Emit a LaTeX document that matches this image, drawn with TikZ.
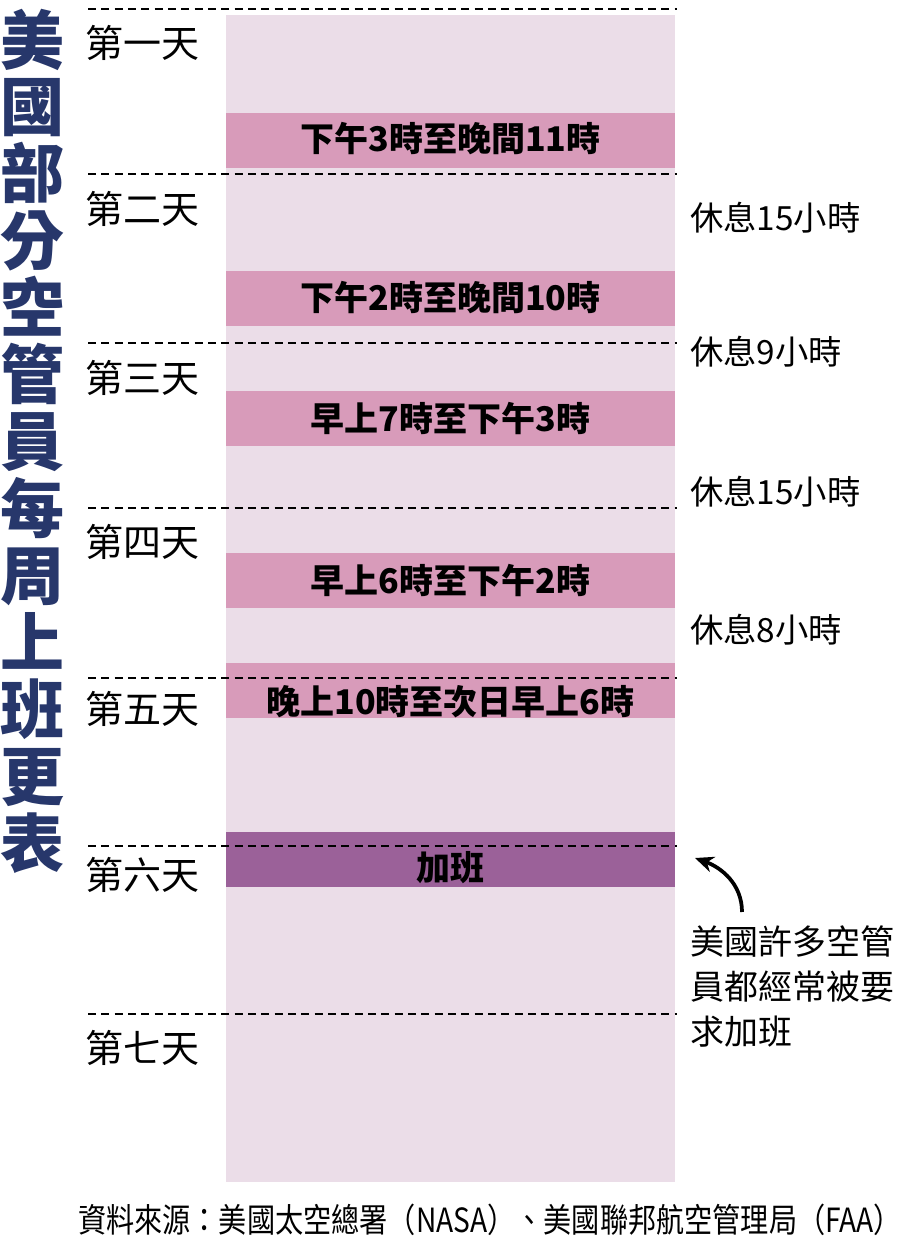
\documentclass[tikz,border=0pt]{standalone}
\usepackage{fontspec}
\usepackage{xcolor}
\usetikzlibrary{arrows.meta}
\setmainfont{Noto Sans CJK TC}

\definecolor{colbg}{HTML}{EBDDE8}
\definecolor{shiftpink}{HTML}{D89BBA}
\definecolor{overpurple}{HTML}{9B6199}
\definecolor{titlenavy}{HTML}{27376B}

\begin{document}
\begin{tikzpicture}[x=0.75pt,y=0.75pt,yscale=-1,xscale=1,
  dayline/.style={line width=1.5pt,dash pattern=on 6pt off 4pt},
  daylbl/.style={anchor=west,inner sep=0pt,font=\fontsize{28.5}{30}\selectfont},
  shifttxt/.style={inner sep=0pt,font=\fontsize{25.5}{27}\selectfont\bfseries},
  restlbl/.style={anchor=west,inner sep=0pt,font=\fontsize{25}{26}\selectfont}]
\useasboundingbox (0,0) rectangle (907,1248);
% column and shift bars
\fill[colbg] (226,15) rectangle (675,1182);
\fill[shiftpink] (226,113) rectangle (675,168);
\fill[shiftpink] (226,271) rectangle (675,326);
\fill[shiftpink] (226,391) rectangle (675,446);
\fill[shiftpink] (226,553) rectangle (675,608);
\fill[shiftpink] (226,663) rectangle (675,718);
\fill[overpurple] (226,832) rectangle (675,887);
% day lines
\foreach \y in {9,174,343,508,678,846,1014}
  \draw[dayline] (88,\y) -- (677,\y);
% title
\draw (33,441) node [inner sep=0pt,align=center,text=titlenavy,font=\fontsize{48}{50.2}\selectfont\bfseries] (title) {美\\國\\部\\分\\空\\管\\員\\每\\周\\上\\班\\更\\表};
% days
\draw (85,43) node [daylbl] (day1) {第一天};
\draw (85,209) node [daylbl] (day2) {第二天};
\draw (85,378) node [daylbl] (day3) {第三天};
\draw (85,542) node [daylbl] (day4) {第四天};
\draw (85,709) node [daylbl] (day5) {第五天};
\draw (85,875) node [daylbl] (day6) {第六天};
\draw (85,1048) node [daylbl] (day7) {第七天};
% shifts
\draw (450.5,139) node [shifttxt] (shift1) {下午3時至晚間11時};
\draw (450.5,298) node [shifttxt] (shift2) {下午2時至晚間10時};
\draw (450.5,418) node [shifttxt] (shift3) {早上7時至下午3時};
\draw (450.5,580) node [shifttxt] (shift4) {早上6時至下午2時};
\draw (450.5,702) node [shifttxt] (shift5) {晚上10時至次日早上6時};
\draw (450.5,868) node [shifttxt] (shift6) {加班};
% rests
\draw (690,218) node [restlbl] (rest1) {休息15小時};
\draw (690,352) node [restlbl] (rest2) {休息9小時};
\draw (690,492) node [restlbl] (rest3) {休息15小時};
\draw (690,630) node [restlbl] (rest4) {休息8小時};
% note
\draw (690,925) node [anchor=north west,inner sep=0pt,align=left,font=\fontsize{25.5}{34}\selectfont] (note) {美國許多空管\\員都經常被要\\求加班};
\coordinate (tail) at (742,912);
\coordinate (tip) at (695,858);
\draw[line width=2.8pt,-{Stealth[length=14pt,width=12pt]}] (tail) to[out=-90,in=20] (tip);
% source
\draw (490,1220) node [inner sep=0pt,font=\fontsize{25}{26}\selectfont] (source) {\scalebox{0.845}[1]{資料來源：美國太空總署（NASA）、美國聯邦航空管理局（FAA）}};
\end{tikzpicture}
\end{document}
